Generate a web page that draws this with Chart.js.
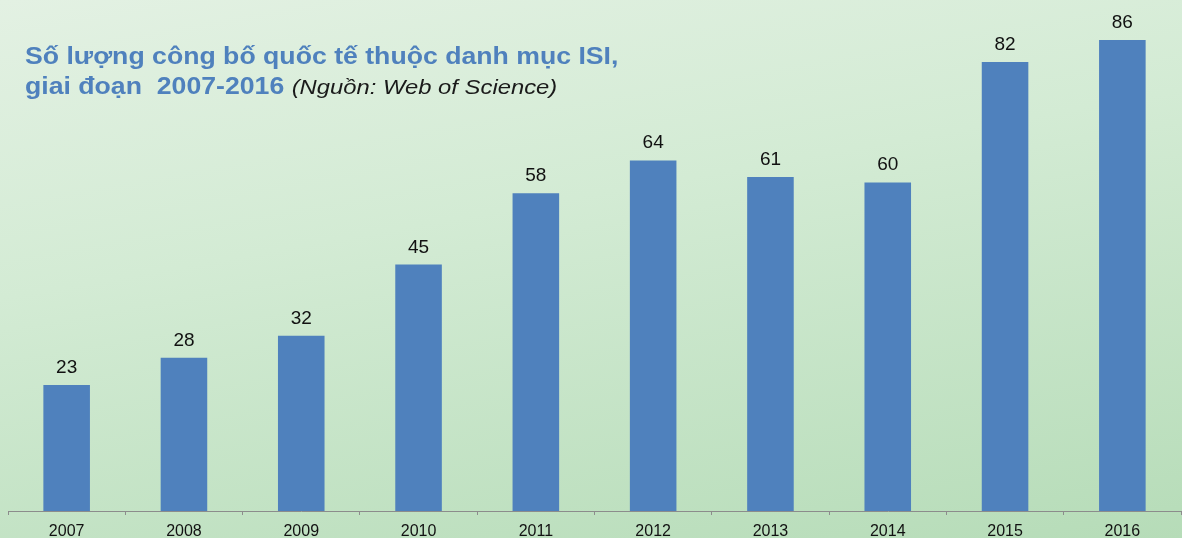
<!DOCTYPE html>
<html>
<head>
<meta charset="utf-8">
<script src="https://cdn.jsdelivr.net/npm/chart.js@4.4.1/dist/chart.umd.min.js"></script>
<style>
  html, body { margin: 0; padding: 0; }
  body { width: 1182px; height: 538px; overflow: hidden;
         background: linear-gradient(170deg, #e3f1e3 0%, #d3ebd4 40%, #b6dcb8 100%); }
  #wrap { position: relative; width: 1182px; height: 538px; }
  canvas { position: absolute; left: 0; top: 0; }
  #title { position: absolute; left: 25px; top: 41px; font-family: "Liberation Sans", Arial, sans-serif;
           color: #4f81bd; font-weight: bold; font-size: 23.5px; line-height: 30px; white-space: pre;
           transform: scaleX(1.134); transform-origin: 0 0; }
  #title .src { font-weight: normal; font-style: italic; color: #1a1a1a; font-size: 21px; }
</style>
</head>
<body>
<div id="wrap">
  <canvas id="c" width="1182" height="538"></canvas>
  <div id="title">Số lượng công bố quốc tế thuộc danh mục ISI,
giai đoạn  2007-2016 <span class="src">(Nguồn: Web of Science)</span></div>
</div>
<script>
const years = ["2007","2008","2009","2010","2011","2012","2013","2014","2015","2016"];
const publications = [23, 28, 32, 45, 58, 64, 61, 60, 82, 86];

const valueLabels = {
  id: 'valueLabels',
  afterDatasetsDraw(chart) {
    const ctx = chart.ctx;
    const meta = chart.getDatasetMeta(0);
    ctx.save();
    ctx.font = '19px "Liberation Sans", Arial, sans-serif';
    ctx.fillStyle = '#111';
    ctx.textAlign = 'center';
    ctx.textBaseline = 'alphabetic';
    meta.data.forEach((bar, i) => {
      ctx.fillText(String(publications[i]), bar.x, bar.y - 12);
    });
    ctx.restore();
  }
};

new Chart(document.getElementById('c'), {
  type: 'bar',
  data: {
    labels: years,
    datasets: [{
      data: publications,
      backgroundColor: '#4f81bd',
      borderWidth: 0,
      categoryPercentage: 1.0,
      barPercentage: 0.397
    }]
  },
  options: {
    responsive: false,
    animation: false,
    events: [],
    layout: { padding: { left: 8, right: 1, top: 0, bottom: 0 } },
    plugins: { legend: { display: false }, tooltip: { enabled: false }, title: { display: false } },
    scales: {
      y: { display: false, min: 0, max: 93.3 },
      x: {
        offset: true,
        afterFit(scale) { scale.height = 27; },
        grid: { display: true, offset: true, drawOnChartArea: false, drawTicks: true, tickLength: 4, color: '#8c8c8c' },
        border: { display: true, color: '#8c8c8c', width: 1 },
        ticks: { color: '#111', font: { family: '"Liberation Sans", Arial, sans-serif', size: 16 }, padding: 6.5 }
      }
    }
  },
  plugins: [valueLabels]
});
</script>
</body>
</html>
